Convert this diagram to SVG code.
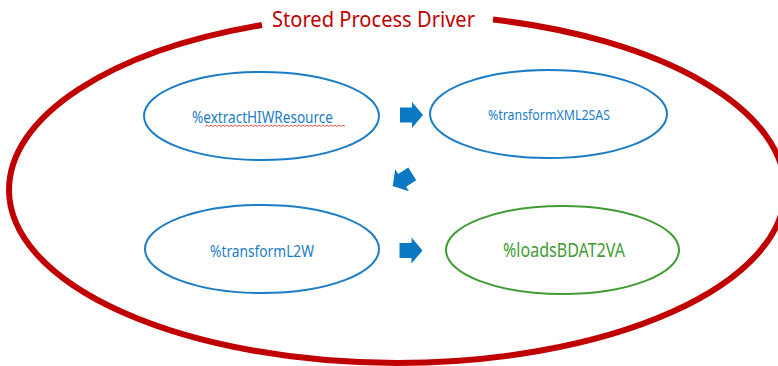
<svg xmlns="http://www.w3.org/2000/svg" width="778" height="366" viewBox="0 0 778 366">
<defs>
<style>
.frame{fill:none;stroke:#C00000;stroke-width:6;stroke-linecap:butt}
.title{font-family:"Noto Sans","Open Sans","Liberation Sans",sans-serif;font-size:21px;fill:#C00000}
.node{fill:#fff;stroke:#1A7DC6;stroke-width:2}
.node.green{stroke:#3F9C32}
.lbl{font-family:"Noto Sans","Open Sans","Liberation Sans",sans-serif;fill:#1A7DC6;text-anchor:middle}
.lbl.green{fill:#3F9C32}
.arrow{fill:#0A78C2}
.squig{fill:none;stroke:#E04848;stroke-width:0.9}
</style>
<path id="blk" d="M-11.5,-7.5 L0.5,-7.5 L0.5,-13 L11.5,0 L0.5,13 L0.5,7.5 L-11.5,7.5 Z"/>
</defs>
<rect width="778" height="366" fill="#fff"/>
<g id="driver">
<path class="frame" d="M262,25 A388 176 0 0 0 9 190 A388 173 0 0 0 785 190 A388 176 0 0 0 493 19.5"/>
<text class="title" x="272" y="27" textLength="203" lengthAdjust="spacingAndGlyphs">Stored Process Driver</text>
</g>
<g id="connectors">
<use href="#blk" class="arrow" transform="translate(411.5,115)"/>
<use href="#blk" class="arrow" transform="translate(402.5,180) rotate(148)"/>
<use href="#blk" class="arrow" transform="translate(411,250.5)"/>
</g>
<g id="extractHIWResource">
<ellipse class="node" cx="261.5" cy="116" rx="117.5" ry="44"/>
<text class="lbl" x="262.5" y="123" font-size="17" textLength="141" lengthAdjust="spacingAndGlyphs">%extractHIWResource</text>
<path class="squig" d="M205,126.5 l2,-1.4 2,1.4 2,-1.4 2,1.4 2,-1.4 2,1.4 2,-1.4 2,1.4 2,-1.4 2,1.4 2,-1.4 2,1.4 2,-1.4 2,1.4 2,-1.4 2,1.4 2,-1.4 2,1.4 2,-1.4 2,1.4 2,-1.4 2,1.4 2,-1.4 2,1.4 2,-1.4 2,1.4 2,-1.4 2,1.4 2,-1.4 2,1.4 2,-1.4 2,1.4 2,-1.4 2,1.4 2,-1.4 2,1.4 2,-1.4 2,1.4 2,-1.4 2,1.4 2,-1.4 2,1.4 2,-1.4 2,1.4 2,-1.4 2,1.4 2,-1.4 2,1.4 2,-1.4 2,1.4 2,-1.4 2,1.4 2,-1.4 2,1.4 2,-1.4 2,1.4 2,-1.4 2,1.4 2,-1.4 2,1.4 2,-1.4 2,1.4 2,-1.4 2,1.4 2,-1.4 2,1.4 2,-1.4 2,1.4 2,-1.4 2,1.4"/>
</g>
<g id="transformXML2SAS">
<ellipse class="node" cx="548.5" cy="114" rx="118.5" ry="44"/>
<text class="lbl" x="549" y="120" font-size="15" textLength="122" lengthAdjust="spacingAndGlyphs">%transformXML2SAS</text>
</g>
<g id="transformL2W">
<ellipse class="node" cx="262" cy="249" rx="117" ry="44"/>
<text class="lbl" x="262" y="257" font-size="17" textLength="104" lengthAdjust="spacingAndGlyphs">%transformL2W</text>
</g>
<g id="loadsBDAT2VA">
<ellipse class="node green" cx="562.5" cy="250" rx="116.5" ry="44"/>
<text class="lbl green" x="564" y="257" font-size="19" textLength="122" lengthAdjust="spacingAndGlyphs">%loadsBDAT2VA</text>
</g>
</svg>
